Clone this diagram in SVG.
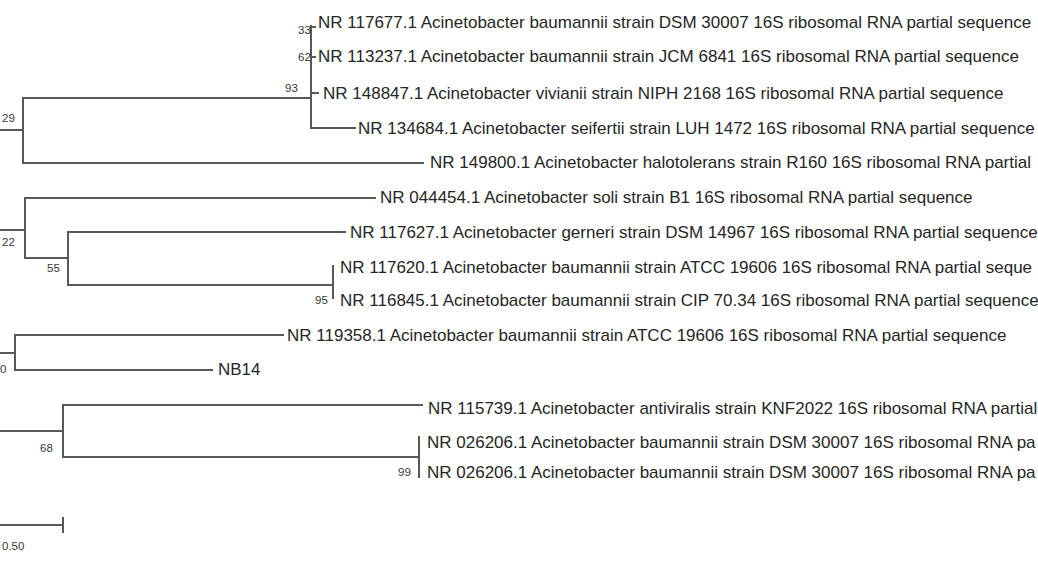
<svg xmlns="http://www.w3.org/2000/svg" width="1038" height="576" viewBox="0 0 1038 576">
<style>
.br{fill:none;stroke:#585858;stroke-width:2;stroke-linecap:square}
.lf{font-family:"Liberation Sans",Arial,sans-serif;font-size:17px;fill:#262626}
.bs{font-family:"Liberation Sans",Arial,sans-serif;font-size:11.5px;fill:#363636}
</style>
<rect width="1038" height="576" fill="#ffffff"/>
<g id="connectors">
<path class="br" d="M0 130H23M23 98V163M23 98H311M311 26V128M311 128H355M23 163H423M311 27H315M311 57H315M311 93H318"/>
<path class="br" d="M0 230H25M25 198V258M25 198H375M25 258H68M68 232V285M68 232H345M68 285H333M333 266V298"/>
<path class="br" d="M0 353H15M15 335V370M15 335H283M15 370H212"/>
<path class="br" d="M0 431H63M63 405V457M63 405H422M63 457H419M419 437V477"/>
<path class="br" d="M0 525H63M63 518V532"/>
</g>
<g id="n1"><text class="lf" x="318" y="28">NR 117677.1 Acinetobacter baumannii strain DSM 30007 16S ribosomal RNA partial sequence</text></g>
<g id="n2"><text class="lf" x="318" y="62">NR 113237.1 Acinetobacter baumannii strain JCM 6841 16S ribosomal RNA partial sequence</text></g>
<g id="n3"><text class="lf" x="323" y="99">NR 148847.1 Acinetobacter vivianii strain NIPH 2168 16S ribosomal RNA partial sequence</text></g>
<g id="n4"><text class="lf" x="358" y="134">NR 134684.1 Acinetobacter seifertii strain LUH 1472 16S ribosomal RNA partial sequence</text></g>
<g id="n5"><text class="lf" x="430" y="168">NR 149800.1 Acinetobacter halotolerans strain R160 16S ribosomal RNA partial</text></g>
<g id="n6"><text class="lf" x="380" y="203">NR 044454.1 Acinetobacter soli strain B1 16S ribosomal RNA partial sequence</text></g>
<g id="n7"><text class="lf" x="350" y="238">NR 117627.1 Acinetobacter gerneri strain DSM 14967 16S ribosomal RNA partial sequence</text></g>
<g id="n8"><text class="lf" x="340" y="273">NR 117620.1 Acinetobacter baumannii strain ATCC 19606 16S ribosomal RNA partial seque</text></g>
<g id="n9"><text class="lf" x="340" y="306">NR 116845.1 Acinetobacter baumannii strain CIP 70.34 16S ribosomal RNA partial sequence</text></g>
<g id="n10"><text class="lf" x="287" y="341">NR 119358.1 Acinetobacter baumannii strain ATCC 19606 16S ribosomal RNA partial sequence</text></g>
<g id="n11"><text class="lf" x="218" y="375">NB14</text></g>
<g id="n12"><text class="lf" x="428" y="414">NR 115739.1 Acinetobacter antiviralis strain KNF2022 16S ribosomal RNA partial</text></g>
<g id="n13"><text class="lf" x="427" y="448">NR 026206.1 Acinetobacter baumannii strain DSM 30007 16S ribosomal RNA pa</text></g>
<g id="n14"><text class="lf" x="427" y="478">NR 026206.1 Acinetobacter baumannii strain DSM 30007 16S ribosomal RNA pa</text></g>
<g id="bootstrap">
<text class="bs" x="298" y="34">33</text>
<text class="bs" x="298" y="61">62</text>
<text class="bs" x="285" y="92">93</text>
<text class="bs" x="2" y="122">29</text>
<text class="bs" x="2" y="246">22</text>
<text class="bs" x="47" y="272">55</text>
<text class="bs" x="315" y="304">95</text>
<text class="bs" x="0" y="373">0</text>
<text class="bs" x="40" y="452">68</text>
<text class="bs" x="398" y="476">99</text>
</g>
<g id="scale"><text class="bs" x="2" y="550">0.50</text></g>
</svg>
